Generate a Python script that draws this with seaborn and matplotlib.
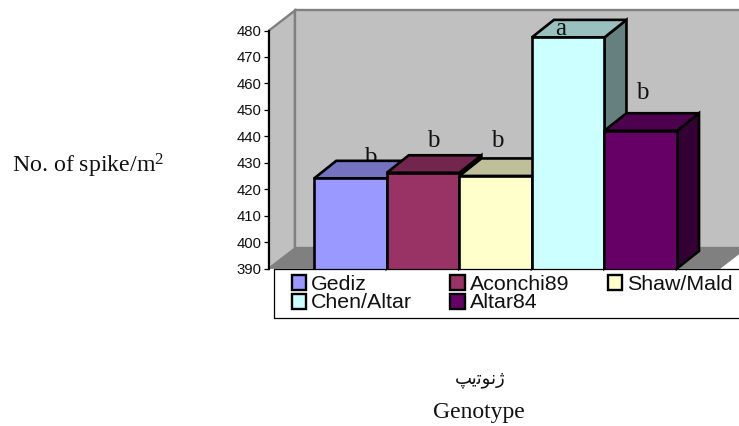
import matplotlib.pyplot as plt
from matplotlib.patches import Patch, Polygon, Rectangle
import numpy as np
import pandas as pd
import seaborn as sns

genotypes = ['Gediz', 'Aconchi89', 'Shaw/Mald', 'Chen/Altar', 'Altar84']
spikes = [424.1, 426.2, 425.0, 477.4, 442.1]
colors = ['#9999FF', '#993366', '#FFFFCC', '#CCFFFF', '#660066']
letters = ['b', 'b', 'b', 'a', 'b']
letter_x = [0.27, 1.14, 2.02, 2.90, 4.02]
letter_y = [429.5, 436.0, 436.0, 478.3, 454.0]
ticks = list(range(390, 490, 10))

W, H = 739, 426
BASE = 390

# --- front of the "3d" bars comes from seaborn, the rest is built on top of it
sns.set_theme(style="white")
plt.rcParams['font.family'] = ['Liberation Sans', 'DejaVu Sans']
plt.rcParams['mathtext.fontset'] = 'custom'
plt.rcParams['mathtext.rm'] = 'Liberation Serif'
plt.rcParams['mathtext.default'] = 'rm'

fig = plt.figure(figsize=(W / 100, H / 100), dpi=100, facecolor='white')
ax = fig.add_axes([269 / W, 1 - 268.5 / H, (720 - 269) / W, 238 / H])
ax.set_facecolor('none')

data = pd.DataFrame({'genotype': genotypes, 'spikes': spikes})
sns.barplot(data=data, x='genotype', y='spikes', hue='genotype', palette=colors, order=genotypes,
            hue_order=genotypes, saturation=1, width=1, edgecolor='black', linewidth=1.9,
            legend=False, ax=ax)

x0 = -0.5 - 45.3 / 72.6
x1 = 4.5 + 43 / 72.6
ax.set_xlim(x0, x1)
ax.set_ylim(BASE, 480)

# depth of bars and of the walls, in data units
bar_dx, bar_dy = 22 / 72.6, 17.5 / 2.644
wall_dx, wall_dy = 26 / 72.6, 20 / 2.644


def shade(color, factor):
    return tuple(np.array(plt.matplotlib.colors.to_rgb(color)) * factor)


def face(points, color, z, edge='black', lw=1.9):
    ax.add_patch(Polygon(points, closed=True, facecolor=color, edgecolor=edge, linewidth=lw,
                         joinstyle='miter', clip_on=False, zorder=z))


# walls and floor
face([(x0, BASE), (x0, 480), (x0 + wall_dx, 480 + wall_dy), (x0 + wall_dx, BASE + wall_dy)], '#C0C0C0', 0.5, '#808080', 1.7)
face([(x0 + wall_dx, BASE + wall_dy), (x0 + wall_dx, 480 + wall_dy), (x1 + 1, 480 + wall_dy), (x1 + 1, BASE + wall_dy)], '#C0C0C0', 0.6, '#808080', 1.7)
face([(x0, BASE), (x0 + wall_dx, BASE + wall_dy), (x1 + wall_dx, BASE + wall_dy), (x1, BASE)], '#808080', 0.7, '#808080', 0.5)

# Gediz letter goes behind its own bar top, same as the original
for i, letter in enumerate(letters):
    ax.text(letter_x[i], letter_y[i], letter, family='Liberation Serif', fontsize=18, color='#111111',
            ha='center', va='baseline', zorder=2 if i == 0 else 40)

for i, (bar, value, color) in enumerate(zip(ax.patches, spikes, colors)):
    left = bar.get_x()
    right = left + bar.get_width()
    z = 3 + i * 3
    face([(right, BASE), (right + bar_dx, BASE + bar_dy), (right + bar_dx, value + bar_dy), (right, value)],
         shade(color, 0.5), z)
    face([(left, value), (left + bar_dx, value + bar_dy), (right + bar_dx, value + bar_dy), (right, value)],
         shade(color, 0.75), z + 1)
    bar.set_zorder(z + 2)

sns.despine(ax=ax, top=True, right=True, bottom=True)
ax.spines['left'].set_color('black')
ax.spines['left'].set_linewidth(1.5)
ax.spines['left'].set_zorder(30)
ax.set_yticks(ticks)
ax.tick_params(axis='y', left=True, length=3.5, width=0.9, color='black', pad=2, labelsize=10.7,
               labelcolor='#111111')
ax.set_xticks([])
ax.set_xlabel('')
ax.set_ylabel('')

# legend fills by row in the original, matplotlib by column
order = [0, 3, 1, 4, 2]
handles = [Patch(facecolor=colors[i], edgecolor='black', linewidth=1.7) for i in order]
labels = [genotypes[i] for i in order]
leg = ax.legend(handles, labels, ncol=3, frameon=False, fontsize=15.4, handlelength=0.7, handleheight=0.7,
                handletextpad=0.2, columnspacing=1.8, labelspacing=0.0, borderpad=0, borderaxespad=0,
                loc='upper left', bbox_to_anchor=(291.5 / W, 1 - 274.5 / H), bbox_transform=fig.transFigure,
                labelcolor='#111111')
leg.set_zorder(50)
fig.add_artist(Rectangle((273.5 / W, 1 - 317.5 / H), 480 / W, 49 / H, transform=fig.transFigure,
                         facecolor='none', edgecolor='black', linewidth=0.9))

serif = 'Liberation Serif'
fig.text(11.5 / W, 1 - 172.7 / H, r'No. of spike/m$^{2}$', family=serif, fontsize=17.2, color='#111111',
         ha='left', va='baseline')
fig.text(479 / W, 1 - 418 / H, 'Genotype', family=serif, fontsize=17, color='#111111', ha='center', va='baseline')
# no shaping in matplotlib, so presentation forms in visual order
fig.text(480 / W, 1 - 383 / H, '\uFB57\uFBFE\uFE97\uFEEE\uFEE7\uFB8A', family='DejaVu Sans', fontsize=13,
         color='#111111', ha='center', va='baseline')

fig.savefig('out.png', dpi=100)
